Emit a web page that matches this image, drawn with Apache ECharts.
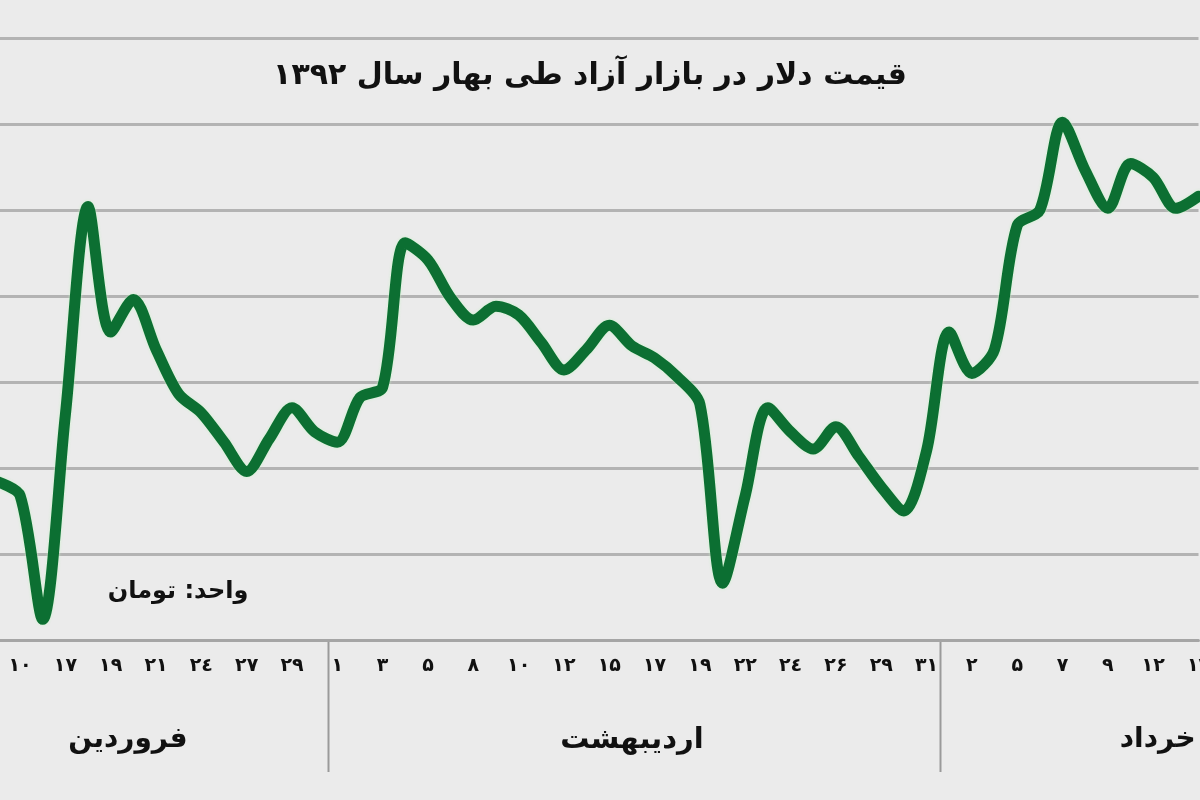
<!DOCTYPE html>
<html><head><meta charset="utf-8">
<script src="https://cdn.jsdelivr.net/npm/echarts@6/dist/echarts.min.js"></script>
<style>html,body{margin:0;padding:0;background:#ebebeb}#c{width:1200px;height:800px}</style>
</head><body><div id="c"></div>
<script>
const titleText = 'قیمت دلار در بازار آزاد طی بهار سال ۱۳۹۲';
const unitText = 'واحد: تومان';
const dayLabels = ['', '۱۰', '', '۱۷', '', '۱۹', '', '۲۱', '', '۲٤', '', '۲۷', '', '۲۹', '',
  '۱', '', '۳', '', '۵', '', '۸', '', '۱۰', '', '۱۲', '', '۱۵', '', '۱۷', '', '۱۹', '', '۲۲', '', '۲٤', '', '۲۶', '', '۲۹', '', '۳۱',
  '', '۲', '', '۵', '', '۷', '', '۹', '', '۱۲', '', '۱۴'];
const prices = [3392, 3384, 3312, 3431, 3552, 3479, 3498, 3469, 3443, 3432, 3415, 3398, 3417, 3435, 3421,
  3415, 3441, 3447, 3531, 3521, 3499, 3486, 3494, 3489, 3473, 3457, 3469, 3483, 3471, 3464, 3453, 3437, 3333, 3384, 3435, 3421, 3411, 3424, 3407, 3389, 3375, 3410,
  3479, 3455, 3469, 3541, 3550, 3601, 3573, 3551, 3577, 3569, 3551, 3558];
const yTicks = [3300, 3350, 3400, 3450, 3500, 3550, 3600, 3650];
const months = ['فروردین', 'اردیبهشت', 'خرداد'];
const monthStartIdx = [15, 42];          // first category index of each new month
const monthCenterIdx = [5.76, 28, 51.2]; // label centres in category units

const chart = echarts.init(document.getElementById('c'), null, {renderer: 'canvas'});
const font = 'DejaVu Sans';
chart.setOption({
  backgroundColor: '#ebebeb',
  animation: false,
  title: {
    text: titleText, left: 585, top: 56, textAlign: 'center',
    textStyle: {fontFamily: font, fontSize: 30, fontWeight: 'bold', color: '#111'}
  },
  grid: {left: -2.6, right: 1.5, top: 38, bottom: 160, containLabel: false, outerBoundsMode: 'none'},
  xAxis: {
    type: 'category', data: dayLabels, boundaryGap: false,
    axisLine: {lineStyle: {color: '#a5a5a5', width: 3}},
    axisTick: {show: false},
    axisLabel: {interval: 0, margin: 17, color: '#111', fontFamily: font, fontWeight: 'bold', fontSize: 19, hideOverlap: false},
    splitLine: {show: false}
  },
  yAxis: {
    type: 'value', min: yTicks[0], max: yTicks[yTicks.length - 1], interval: 50,
    axisLine: {show: false}, axisTick: {show: false}, axisLabel: {show: false},
    splitLine: {lineStyle: {color: '#b3b3b3', width: 3}}
  },
  series: [{
    type: 'line', data: prices, smooth: 0.3, showSymbol: false, clip: true,
    lineStyle: {color: '#0c6f32', width: 11, cap: 'round', join: 'round',
      shadowColor: 'rgba(200,245,200,0.95)', shadowBlur: 3}
  }]
});

const x0 = chart.convertToPixel({xAxisIndex: 0}, 0);
const x1 = chart.convertToPixel({xAxisIndex: 0}, 1);
const step = x1 - x0;
const px = i => x0 + i * step;
const g = [];
monthStartIdx.forEach(i => {
  const x = Math.round((px(i - 1) + px(i)) / 2 + 2) + 0.5;
  g.push({type: 'line', shape: {x1: x, y1: 640, x2: x, y2: 772}, style: {stroke: '#9a9a9a', lineWidth: 2}});
});
const monthSizes = [28, 29, 28];
months.forEach((m, j) => {
  g.push({type: 'text', x: px(monthCenterIdx[j]), y: 740,
    style: {text: m, fontFamily: font, fontWeight: 'bold', fontSize: monthSizes[j], fill: '#111', align: 'center', verticalAlign: 'middle'}});
});
g.push({type: 'text', x: 178, y: 592,
  style: {text: unitText, fontFamily: font, fontWeight: 'bold', fontSize: 24, fill: '#111', align: 'center', verticalAlign: 'middle'}});
chart.setOption({graphic: g});
</script>
</body></html>
